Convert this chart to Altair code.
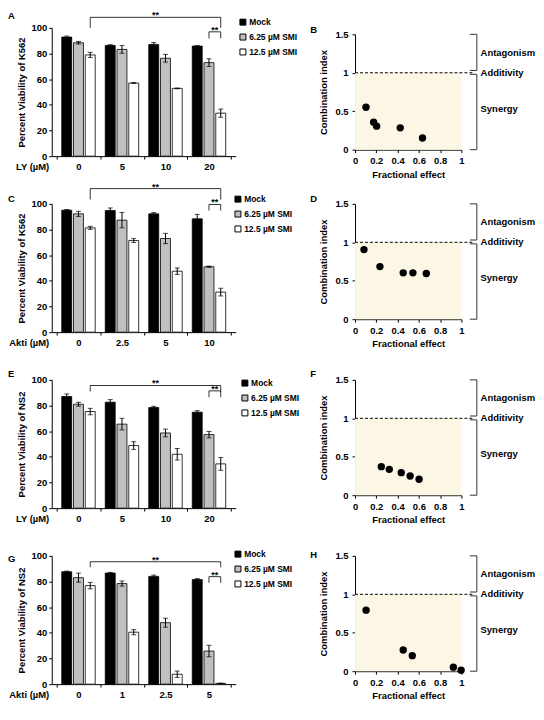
import json
import altair as alt
import pandas as pd

FONT = "Liberation Sans"

SERIES = ["Mock", "6.25 µM SMI", "12.5 µM SMI"]
SERIES_FILL = ["#000000", "#c0c0c0", "#ffffff"]

# ---- Panel A : K562 + LY ----
A_DOSES = ["0", "5", "10", "20"]
A_MOCK = [92.8, 86.3, 87.1, 85.8]
A_MOCK_ERR = [0.8, 0.6, 1.5, 0.4]
A_SMI6 = [88.4, 83.2, 76.3, 72.9]
A_SMI6_ERR = [1.0, 3.0, 3.0, 3.0]
A_SMI12 = [78.9, 57.0, 52.8, 33.5]
A_SMI12_ERR = [2.0, 0.3, 0.3, 3.2]
A_SIG_LONG = [100.0, 108.2]
A_SIG_SHORT = [91.8, 96.9]

# ---- Panel C : K562 + Akti ----
C_DOSES = ["0", "2.5", "5", "10"]
C_MOCK = [95.1, 94.8, 92.2, 88.3]
C_MOCK_ERR = [0.5, 2.0, 1.0, 3.5]
C_SMI6 = [92.2, 87.3, 73.0, 51.0]
C_SMI6_ERR = [2.0, 6.0, 4.0, 0.5]
C_SMI12 = [81.3, 71.4, 47.5, 31.2]
C_SMI12_ERR = [1.2, 1.5, 2.5, 3.0]
C_SIG_LONG = [103.4, 111.9]
C_SIG_SHORT = [94.8, 99.5]

# ---- Panel E : NS2 + LY ----
E_DOSES = ["0", "5", "10", "20"]
E_MOCK = [87.0, 82.6, 78.4, 74.8]
E_MOCK_ERR = [2.0, 2.0, 1.0, 1.2]
E_SMI6 = [81.0, 65.5, 58.6, 57.3]
E_SMI6_ERR = [1.5, 4.5, 3.0, 2.5]
E_SMI12 = [75.3, 48.8, 42.0, 34.5]
E_SMI12_ERR = [2.5, 3.0, 4.5, 5.0]
E_SIG_LONG = [90.9, 95.6]
E_SIG_SHORT = [86.5, 91.4]

# ---- Panel G : NS2 + Akti ----
G_DOSES = ["0", "1", "2.5", "5"]
G_MOCK = [87.6, 86.6, 84.0, 81.5]
G_MOCK_ERR = [0.5, 0.5, 1.0, 0.8]
G_SMI6 = [83.0, 78.4, 47.9, 25.8]
G_SMI6_ERR = [3.5, 2.0, 3.5, 4.5]
G_SMI12 = [76.8, 40.5, 7.7, 0.6]
G_SMI12_ERR = [2.5, 2.0, 2.5, 0.2]
G_SIG_LONG = [91.0, 95.4]
G_SIG_SHORT = [79.0, 83.8]

# ---- Combination index panels (fractional effect, CI) ----
B_FA = [0.103, 0.175, 0.203, 0.425, 0.634]
B_CI = [0.552, 0.358, 0.306, 0.284, 0.151]
D_FA = [0.084, 0.234, 0.453, 0.544, 0.670]
D_CI = [0.905, 0.684, 0.603, 0.603, 0.595]
F_FA = [0.247, 0.322, 0.434, 0.518, 0.602]
F_CI = [0.371, 0.336, 0.293, 0.250, 0.207]
H_FA = [0.104, 0.453, 0.538, 0.924, 0.997]
H_CI = [0.794, 0.275, 0.202, 0.052, 0.013]

REGION_LABELS = ["Antagonism", "Additivity", "Synergy"]
REGION_Y = [1.26, 1.0, 0.53]

BAR_W, BAR_H = 185, 129
CI_W, CI_H = 107, 116
PITCH = 0.27
FS = 9.5


def bar_panel(letter, doses, drug, cell, means, errs, sig_long, sig_short,
              legend_x, legend_y, title_dy):
    rows = []
    for g, dose in enumerate(doses):
        for j, name in enumerate(SERIES):
            m = means[j][g]
            e = errs[j][g]
            rows.append({"series": name, "pos": g + (j - 1) * PITCH,
                         "v": m, "lo": m - e, "hi": m + e})
    df = pd.DataFrame(rows)
    n = len(doses)
    first_white = PITCH
    last_white = (n - 1) + PITCH
    last_gray = n - 1
    br = pd.DataFrame({
        "id": ["long"] * 4 + ["short"] * 4,
        "o": [0, 1, 2, 3] * 2,
        "pos": [first_white, first_white, last_white, last_white,
                last_gray, last_gray, last_white, last_white],
        "v": [sig_long[0], sig_long[1], sig_long[1], sig_long[0],
              sig_short[0], sig_short[1], sig_short[1], sig_short[0]],
    })
    stars = pd.DataFrame({
        "pos": [(first_white + last_white) / 2, (last_gray + last_white) / 2],
        "v": [sig_long[1], sig_short[1]],
        "t": ["**", "**"],
    })

    xs = alt.Scale(domain=[-0.5, n - 0.5], nice=False, zero=False)
    ys = alt.Scale(domain=[0, 100], nice=False)
    tick_vals = [k * 0.5 - 0.5 for k in range(2 * n + 1)]
    x_axis = alt.Axis(
        values=tick_vals,
        labelExpr=f"datum.value % 1 === 0 ? {json.dumps(doses)}[datum.value] : ''",
        tickOpacity={"condition": {"test": "datum.value % 1 !== 0", "value": 1}, "value": 0},
        labelOverlap=False, labelFlush=False, labelPadding=2,
        title=f"{drug} (µM)", titleX=-3, titleY=5, titleAlign="right",
        titleBaseline="top", titleAngle=0,
    )
    y_axis = alt.Axis(values=list(range(0, 101, 20)),
                      title=f"Percent Viability of {cell}",
                      titlePadding=5, labelPadding=2)
    legend = alt.Legend(title=None, orient="none", legendX=legend_x, legendY=legend_y,
                        symbolType="square", symbolSize=36, symbolStrokeColor="black",
                        symbolStrokeWidth=1, labelFontSize=8.5, labelFontWeight="bold",
                        labelFont=FONT, labelColor="black", rowPadding=4, labelOffset=2,
                        padding=0)

    X = alt.X("pos:Q", scale=xs, axis=x_axis)

    bars = alt.Chart(df).mark_bar(size=10, stroke="black", strokeWidth=0.8,
                                  orient="vertical").encode(
        x=X,
        y=alt.Y("v:Q", scale=ys, axis=y_axis, stack=None),
        color=alt.Color("series:N", scale=alt.Scale(domain=SERIES, range=SERIES_FILL),
                        legend=legend),
    )
    err = alt.Chart(df).mark_rule(color="black", strokeWidth=1).encode(
        x=X,
        y=alt.Y("lo:Q", scale=ys, axis=y_axis),
        y2="hi:Q",
    )
    cap_lo = alt.Chart(df).mark_tick(color="black", orient="horizontal", size=5,
                                     thickness=1).encode(
        x=X,
        y=alt.Y("lo:Q", scale=ys, axis=y_axis),
    )
    cap_hi = alt.Chart(df).mark_tick(color="black", orient="horizontal", size=5,
                                     thickness=1).encode(
        x=X,
        y=alt.Y("hi:Q", scale=ys, axis=y_axis),
    )
    bracket = alt.Chart(br).mark_line(color="black", strokeWidth=0.8).encode(
        x=X,
        y=alt.Y("v:Q", scale=ys, axis=y_axis),
        detail="id:N",
        order="o:Q",
    )
    star = alt.Chart(stars).mark_text(fontSize=9, fontWeight="bold", font=FONT,
                                      baseline="alphabetic", dy=1).encode(
        x=X,
        y=alt.Y("v:Q", scale=ys, axis=y_axis),
        text="t:N",
    )
    return alt.layer(bars, err, cap_lo, cap_hi, bracket, star).properties(
        width=BAR_W, height=BAR_H,
        title=alt.TitleParams(letter, anchor="start", dx=-44, dy=title_dy, offset=0,
                              fontSize=9.5, fontWeight="bold", font=FONT, frame="group"),
    )


def ci_panel(letter, fa, ci, title_dy):
    xs = alt.Scale(domain=[0, 1], nice=False, zero=False)
    ys = alt.Scale(domain=[0, 1.5], nice=False, zero=False)
    x_axis = alt.Axis(values=[0, 0.2, 0.4, 0.6, 0.8, 1], format="~g",
                      title="Fractional effect", labelPadding=3, titlePadding=4,
                      labelFlush=False)
    y_axis = alt.Axis(values=[0, 0.5, 1, 1.5], format="~g",
                      title="Combination index", labelPadding=4, titlePadding=6)

    def X(f):
        return alt.X(f, scale=xs, axis=x_axis)

    def Y(f):
        return alt.Y(f, scale=ys, axis=y_axis)

    zone = alt.Chart(pd.DataFrame({"x": [0], "x2": [1], "y": [0], "y2": [1]})).mark_rect(
        color="#fcf6e4").encode(
        x=X("x:Q"), x2="x2:Q", y=Y("y:Q"), y2="y2:Q",
    )
    dash = alt.Chart(pd.DataFrame({"x": [0], "x2": [1.11], "y": [1]})).mark_rule(
        color="black", strokeWidth=1, strokeDash=[3, 2]).encode(
        x=X("x:Q"), x2="x2:Q", y=Y("y:Q"),
    )
    pts = alt.Chart(pd.DataFrame({"x": fa, "y": ci})).mark_circle(
        size=55, color="black", opacity=1).encode(
        x=X("x:Q"), y=Y("y:Q"),
    )
    br = pd.DataFrame({
        "id": ["ant"] * 4 + ["syn"] * 4,
        "o": [0, 1, 2, 3] * 2,
        "x": [1.08, 1.145, 1.145, 1.08, 1.08, 1.145, 1.145, 1.08],
        "y": [1.5, 1.5, 1.03, 1.03, 0.98, 0.98, 0.0, 0.0],
    })
    brackets = alt.Chart(br).mark_line(color="#333333", strokeWidth=1).encode(
        x=X("x:Q"), y=Y("y:Q"), detail="id:N", order="o:Q",
    )
    labels = alt.Chart(pd.DataFrame({"t": REGION_LABELS, "y": REGION_Y,
                                     "x": [1.18] * 3})).mark_text(
        align="left", baseline="middle", fontSize=9.5, fontWeight="bold",
        font=FONT, color="black").encode(
        x=X("x:Q"), y=Y("y:Q"), text="t:N",
    )
    return alt.layer(zone, dash, pts, brackets, labels).properties(
        width=CI_W, height=CI_H,
        title=alt.TitleParams(letter, anchor="start", dx=-45, dy=title_dy, offset=0,
                              fontSize=9.5, fontWeight="bold", font=FONT, frame="group"),
    )


pA = bar_panel("A", A_DOSES, "LY", "K562",
               [A_MOCK, A_SMI6, A_SMI12], [A_MOCK_ERR, A_SMI6_ERR, A_SMI12_ERR],
               A_SIG_LONG, A_SIG_SHORT, 188, -10, 9)
pB = ci_panel("B", B_FA, B_CI, 5)
pC = bar_panel("C", C_DOSES, "Akti", "K562",
               [C_MOCK, C_SMI6, C_SMI12], [C_MOCK_ERR, C_SMI6_ERR, C_SMI12_ERR],
               C_SIG_LONG, C_SIG_SHORT, 183, -9, 21)
pD = ci_panel("D", D_FA, D_CI, 5)
pE = bar_panel("E", E_DOSES, "LY", "NS2",
               [E_MOCK, E_SMI6, E_SMI12], [E_MOCK_ERR, E_SMI6_ERR, E_SMI12_ERR],
               E_SIG_LONG, E_SIG_SHORT, 190, -1, 4)
pF = ci_panel("F", F_FA, F_CI, 4)
pG = bar_panel("G", G_DOSES, "Akti", "NS2",
               [G_MOCK, G_SMI6, G_SMI12], [G_MOCK_ERR, G_SMI6_ERR, G_SMI12_ERR],
               G_SIG_LONG, G_SIG_SHORT, 183, -6, 14)
pH = ci_panel("H", H_FA, H_CI, 9)

chart = alt.concat(
    pA, pB, pC, pD, pE, pF, pG, pH,
    columns=2,
    spacing={"row": 48, "column": 120},
).properties(
    bounds="flush", align="each", center=True, padding=0,
).resolve_scale(
    color="independent",
).configure_view(
    stroke=None,
).configure_axis(
    labelFont=FONT, titleFont=FONT, labelFontSize=FS, titleFontSize=FS,
    labelFontWeight="bold", titleFontWeight="bold", labelColor="black",
    titleColor="black", domainColor="black", tickColor="black", grid=False,
    tickSize=3, domainWidth=1, tickWidth=1,
)

chart.save("out.html", embed_options={"renderer": "svg", "actions": False})
